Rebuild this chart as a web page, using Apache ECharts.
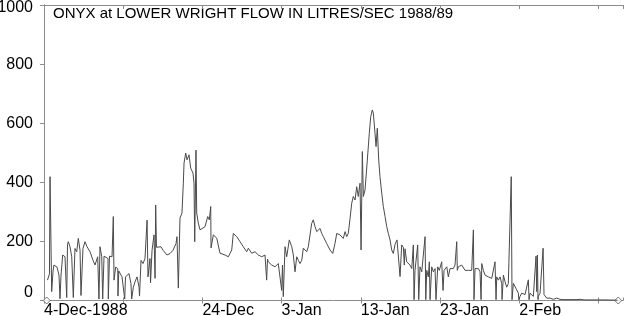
<!DOCTYPE html>
<html>
<head>
<meta charset="utf-8">
<script src="https://cdn.jsdelivr.net/npm/echarts@6/dist/echarts.min.js"></script>
<style>html,body{margin:0;padding:0;background:#fff}#c{width:627px;height:316px}</style>
</head>
<body>
<div id="c"></div>
<script>
// Days since 4-Dec-1988 (fractional) and flow in litres/sec
const days = [0.44,0.69,0.76,0.88,0.97,1.14,1.26,1.64,1.89,2.02,2.15,2.36,2.65,2.87,2.97,3.07,3.28,3.50,3.70,3.91,4.13,4.33,4.55,4.67,4.92,5.18,5.43,5.81,6.19,6.44,6.78,6.94,7.07,7.29,7.41,7.58,7.70,8.08,8.12,8.27,8.33,8.59,8.75,8.84,9.05,9.31,9.34,9.44,9.60,9.85,10.10,10.19,10.29,10.48,10.73,10.98,11.07,11.28,11.49,11.74,12.00,12.06,12.25,12.50,12.75,13.01,13.13,13.38,13.45,13.64,13.89,14.02,14.10,14.20,14.39,14.77,15.03,15.53,15.91,16.29,16.67,16.79,16.96,17.17,17.42,17.59,17.68,17.89,18.06,18.31,18.52,18.81,18.94,19.03,19.19,19.28,19.48,19.70,19.91,20.33,20.67,20.87,21.05,21.09,21.38,21.81,22.22,22.85,23.27,23.48,23.70,23.90,24.33,24.75,25.16,25.59,25.80,26.22,26.64,27.06,27.49,27.90,28.11,28.22,28.32,28.75,29.17,29.58,29.80,30.01,30.11,30.21,30.43,30.64,30.97,31.28,31.48,31.69,31.91,32.11,32.32,32.54,32.74,32.95,33.17,33.37,33.80,34.00,34.22,34.43,34.63,34.85,35.06,35.27,35.69,36.11,36.45,36.74,36.96,37.16,37.37,37.59,37.79,38.01,38.22,38.42,38.64,38.85,39.05,39.27,39.48,39.68,39.90,40.03,40.19,40.32,40.53,40.82,41.07,41.25,41.45,41.58,41.79,41.92,42.08,42.26,42.42,42.64,42.84,43.06,43.27,43.47,43.69,43.90,44.10,44.32,44.57,44.82,44.95,45.16,45.37,45.49,45.58,45.79,45.99,46.21,46.43,46.63,46.72,46.84,47.06,47.18,47.31,47.47,47.69,47.89,48.11,48.20,48.32,48.52,48.65,48.74,48.95,49.16,49.37,49.49,49.71,49.91,50.21,50.38,50.51,50.85,51.05,51.26,51.48,51.68,51.89,52.11,52.18,52.31,52.53,52.74,52.94,53.16,53.37,53.57,53.79,54.00,54.21,54.29,54.42,54.63,54.84,55.05,55.18,55.27,55.47,55.68,55.90,56.10,56.31,56.53,56.73,56.94,57.07,57.16,57.36,57.58,57.79,57.83,58.00,58.21,58.42,58.62,58.84,58.99,59.09,59.26,59.47,59.68,59.89,59.95,60.10,60.32,60.52,60.73,60.95,61.15,61.24,61.36,61.58,61.78,61.99,62.12,62.21,62.29,62.37,62.41,62.63,62.84,63.01,63.13,63.26,63.47,63.67,63.89,64.31,64.73,65.15,65.53,66.41,67.30,67.68,68.18,69.57,70.83,72.41];
const flow = [69,90,419,415,30,100,120,113,86,6,86,154,148,10,190,199,182,148,10,176,165,210,170,17,176,199,182,165,136,120,148,5,182,148,5,150,148,142,5,150,154,148,284,69,113,108,15,100,97,80,86,5,80,75,91,57,5,45,63,80,45,15,136,125,142,272,80,142,60,170,222,75,323,180,176,182,170,154,159,170,193,216,42,279,296,397,465,499,476,493,448,431,397,199,509,296,262,239,245,250,284,273,318,178,222,211,160,154,148,143,171,227,216,199,182,165,177,160,165,154,148,154,69,140,131,120,114,125,120,34,120,13,182,148,205,182,154,97,148,136,125,136,177,182,165,182,261,273,250,233,238,244,227,216,193,171,159,193,227,233,222,227,210,233,216,227,278,329,352,340,385,352,397,171,504,352,374,475,566,622,645,634,566,521,583,475,419,363,318,284,250,227,205,171,159,190,205,210,81,188,180,120,175,131,125,120,108,188,3,102,108,188,3,114,97,102,216,3,102,80,131,3,114,97,108,3,114,102,131,34,102,114,80,108,114,108,120,199,102,114,108,120,114,102,108,102,108,102,239,3,108,102,108,97,3,125,102,86,91,80,86,75,80,131,3,80,69,80,57,3,86,63,45,57,60,419,3,58,47,36,25,3,14,25,30,20,25,70,3,25,20,14,20,150,30,154,3,14,25,30,177,20,14,8,11,8,4,8,4,3,3,3,4,2,2,2,1];
// End markers (days, flow)
const markerDays = [0.34, 72.5];
const markerFlow = [0, 0];
const xTickLabels = ['4-Dec-1988', '', '24-Dec', '3-Jan', '13-Jan', '23-Jan', '2-Feb', ''];
const titleText = 'ONYX at LOWER WRIGHT FLOW IN LITRES/SEC 1988/89';

const FONT = '"Liberation Sans", Arial, sans-serif';
const axisGrey = '#8c8c8c';
const xMax = 73.1;

const chart = echarts.init(document.getElementById('c'), null, {renderer: 'canvas'});
const lineData = days.map((d, i) => [d, flow[i]]);
const markerData = markerDays.map((d, i) => [d, markerFlow[i]]);

chart.setOption({
  animation: false,
  backgroundColor: '#fff',
  grid: {left: 44, right: 4, top: 5, bottom: 15.5, containLabel: false, outerBoundsMode: 'none'},
  graphic: [{
    type: 'text', left: 53, top: 6,
    style: {text: titleText, font: '15px ' + FONT, fill: '#000'}
  }],
  xAxis: [{
    type: 'value', position: 'bottom', min: 0, max: xMax, interval: 10,
    axisLine: {show: true, lineStyle: {color: axisGrey, width: 1}},
    axisTick: {show: true, inside: false, length: 3, lineStyle: {color: axisGrey}},
    splitLine: {show: false},
    axisLabel: {
      show: true, margin: 2, color: '#000', fontSize: 16, fontFamily: FONT, align: 'left',
      showMaxLabel: false,
      formatter: v => { const k = Math.round(v / 10); return xTickLabels[k] || ''; }
    }
  }, {
    type: 'value', position: 'bottom', min: 0, max: xMax, interval: 10,
    axisLine: {show: false}, axisLabel: {show: false}, splitLine: {show: false},
    axisTick: {show: true, inside: true, length: 3, lineStyle: {color: axisGrey}}
  }, {
    type: 'value', position: 'top', min: 0, max: xMax, interval: 10,
    axisLine: {show: true, lineStyle: {color: axisGrey, width: 1}},
    axisLabel: {show: false}, splitLine: {show: false},
    axisTick: {show: true, inside: true, length: 4, lineStyle: {color: axisGrey}}
  }],
  yAxis: [{
    type: 'value', position: 'left', min: 0, max: 1000, interval: 200,
    axisLine: {show: true, lineStyle: {color: axisGrey, width: 1}},
    axisTick: {show: true, inside: false, length: 4, lineStyle: {color: axisGrey}},
    splitLine: {show: false},
    axisLabel: {
      show: true, margin: 11, color: '#000', fontSize: 16, fontFamily: FONT,
      formatter: v => v === 0 ? '{lo|' + v + '}' : (v === 1000 ? '{hi|' + v + '}' : String(v)),
      rich: {
        lo: {fontSize: 16, fontFamily: FONT, color: '#000', padding: [0, 0, 16, 0]},
        hi: {fontSize: 16, fontFamily: FONT, color: '#000', padding: [6, 0, 0, 0]}
      }
    }
  }, {
    type: 'value', position: 'right', min: 0, max: 1000, interval: 200,
    axisLine: {show: true, lineStyle: {color: axisGrey, width: 1}},
    axisTick: {show: true, inside: true, length: 4, lineStyle: {color: axisGrey}},
    axisLabel: {show: false}, splitLine: {show: false}
  }],
  series: [{
    type: 'line', xAxisIndex: 0, yAxisIndex: 0, data: lineData,
    showSymbol: false, symbol: 'none',
    lineStyle: {color: '#4a4a4a', width: 1}
  }, {
    type: 'scatter', xAxisIndex: 0, yAxisIndex: 0, data: markerData,
    symbol: 'diamond', symbolSize: 7,
    itemStyle: {color: '#fff', borderColor: '#555', borderWidth: 1}
  }]
});
</script>
</body>
</html>
